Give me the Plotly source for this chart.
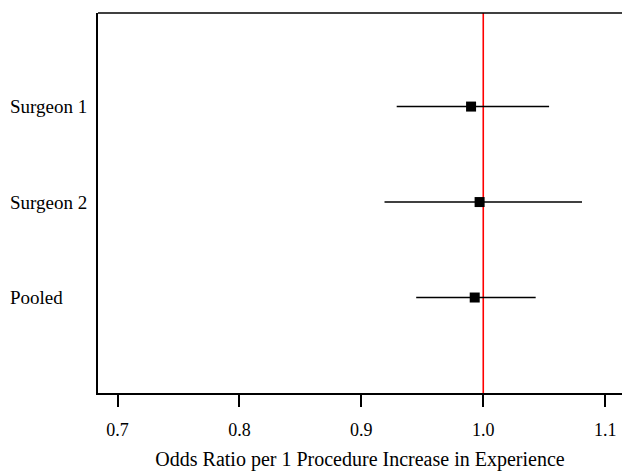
import plotly.graph_objects as go

labels = ["Surgeon 1", "Surgeon 2", "Pooled"]
positions = [3, 2, 1]
odds_ratio = [0.990, 0.997, 0.993]
ci_low = [0.929, 0.919, 0.945]
ci_high = [1.054, 1.081, 1.043]
x_ticks = [0.7, 0.8, 0.9, 1.0, 1.1]
ref_value = 1.0

font = "Liberation Serif, Times New Roman, serif"

fig = go.Figure()
fig.add_trace(go.Scatter(
    x=odds_ratio, y=positions, mode="markers",
    marker=dict(symbol="square", size=10, color="black"),
    error_x=dict(type="data", symmetric=False,
                 array=[h - o for h, o in zip(ci_high, odds_ratio)],
                 arrayminus=[o - l for o, l in zip(odds_ratio, ci_low)],
                 width=0, thickness=1.6, color="black"),
    showlegend=False, cliponaxis=False,
))

fig.add_shape(type="line", xref="x", yref="paper", x0=ref_value, x1=ref_value, y0=0, y1=1,
              line=dict(color="#ff0000", width=1.6), layer="below")
fig.add_shape(type="line", xref="paper", yref="paper", x0=0, x1=1, y0=1, y1=1,
              line=dict(color="black", width=1.6))

for lab, p in zip(labels, positions):
    fig.add_annotation(text=lab, xref="paper", yref="y", x=-0.172, y=p, xanchor="left",
                       showarrow=False, font=dict(family=font, size=19, color="black"))

fig.update_layout(
    width=622, height=471,
    margin=dict(l=98, r=0, t=13, b=78, autoexpand=False),
    plot_bgcolor="white", paper_bgcolor="white",
    font=dict(family=font, size=18, color="black"),
    xaxis=dict(range=[0.684, 1.1138], tickvals=x_ticks, tickformat=".1f", automargin=False,
               ticks="outside", ticklen=12, tickwidth=1.6, tickcolor="black",
               tickfont=dict(size=18), ticklabelstandoff=8,
               showline=True, linecolor="black", linewidth=1.6, showgrid=False, zeroline=False,
               title=dict(text="Odds Ratio per 1 Procedure Increase in Experience",
                          font=dict(size=20), standoff=14)),
    yaxis=dict(range=[0, 3.98], showticklabels=False, ticks="", showline=True, automargin=False,
               linecolor="black", linewidth=1.6, showgrid=False, zeroline=False),
)

fig.write_html("out.html", config={"displayModeBar": False},
               post_script="document.body.style.margin='0';")
